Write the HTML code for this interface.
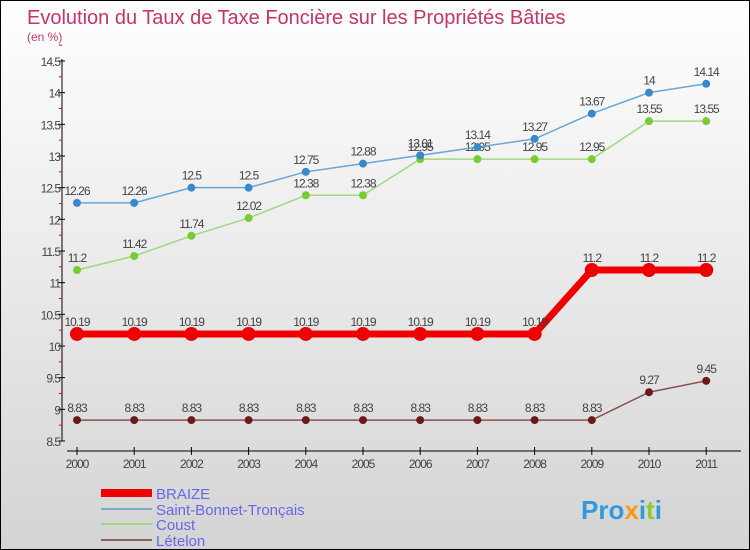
<!DOCTYPE html>
<html><head><meta charset="utf-8"><style>
body{margin:0}
#c{width:748px;height:548px;border:1px solid #000;background:linear-gradient(#fff,#d4d4d4);position:relative;font-family:"Liberation Sans",sans-serif;overflow:hidden}
</style></head><body>
<div id="c">
<svg width="748" height="548" id="s" style="position:absolute;left:0;top:0">
<text x="26" y="23" font-size="20" fill="#c8336a">Evolution du Taux de Taxe Foncière sur les Propriétés Bâties</text>
<text x="26" y="40" font-size="12" fill="#c8336a">(en %)</text>
<g id="g"></g>
<g>
<rect x="100" y="488" width="51" height="8" fill="#e00"/>
<text x="155" y="498" font-size="15" fill="#6666ee">BRAIZE</text>
<rect x="100" y="507" width="51" height="2" fill="#7aaed0"/>
<text x="155" y="514" font-size="15" fill="#6666ee">Saint-Bonnet-Tronçais</text>
<rect x="100" y="522" width="51" height="2" fill="#a0d880"/>
<text x="155" y="529" font-size="15" fill="#6666ee">Coust</text>
<rect x="100" y="538" width="51" height="2" fill="#906060"/>
<text x="155" y="545" font-size="15" fill="#6666ee">Lételon</text>
</g>
<text x="580" y="518" font-size="26" font-weight="bold" fill="#3399dd">Pro<tspan fill="#f39c12">x</tspan>i<tspan fill="#88cc33">t</tspan>i</text>
</svg>
</div>
<script>
const years=[2000,2001,2002,2003,2004,2005,2006,2007,2008,2009,2010,2011];
const yTicks=[8.5,9,9.5,10,10.5,11,11.5,12,12.5,13,13.5,14,14.5];
const braize=[10.19,10.19,10.19,10.19,10.19,10.19,10.19,10.19,10.19,11.2,11.2,11.2];
const saintBonnet=[12.26,12.26,12.5,12.5,12.75,12.88,13.01,13.14,13.27,13.67,14,14.14];
const coust=[11.2,11.42,11.74,12.02,12.38,12.38,12.95,12.95,12.95,12.95,13.55,13.55];
const letelon=[8.83,8.83,8.83,8.83,8.83,8.83,8.83,8.83,8.83,8.83,9.27,9.45];
const NS="http://www.w3.org/2000/svg",g=document.getElementById('g');
const X=i=>76+i*57.2, Y=v=>60+(14.5-v)*63.33;
function el(t,a){const e=document.createElementNS(NS,t);for(const k in a)e.setAttribute(k,a[k]);g.appendChild(e);return e;}
let a=el('line',{x1:61,y1:58,x2:61,y2:440,stroke:'#000'});


yTicks.forEach(v=>{let t=el('line',{x1:57,x2:64,y1:Y(v),y2:Y(v),stroke:'#000'});


let m=el('line',{x1:58,x2:61,y1:Y(v+0.25),y2:Y(v+0.25),stroke:'#e00'});


let l=el('text',{x:59,y:Y(v)+5,'font-size':12,fill:'#444','text-anchor':'end','letter-spacing':'-1'});l.textContent=v;

});
let xa=el('line',{x1:66,y1:450,x2:740,y2:450,stroke:'#000'});


years.forEach((y,i)=>{let t=el('line',{x1:X(i),x2:X(i),y1:446,y2:454,stroke:'#000'});


let l=el('text',{x:X(i),y:467,'font-size':12,fill:'#444','text-anchor':'middle','letter-spacing':'-1'});l.textContent=y;

});
function series(d,name,col,dot,w,r){
 let p=el('polyline',{points:d.map((v,i)=>X(i)+','+Y(v)).join(' '),fill:'none',stroke:col,'stroke-width':w,'stroke-linejoin':'round'});
 
 
 d.forEach((v,i)=>{let c=el('circle',{cx:X(i),cy:Y(v),r:r,fill:dot});
 
 
 let t=el('text',{x:X(i),y:Y(v)-8,'font-size':12,fill:'#444','text-anchor':'middle','letter-spacing':'-1'});t.textContent=v;
 
 });
}
series(letelon,'letelon','#8a5050','#6a1a1a',1.5,4);
series(coust,'coust','#a0d880','#77cc33',1.5,4);
series(saintBonnet,'saint-bonnet','#6aa6d8','#3a88cc',1.5,4);
series(braize,'braize','#ee0000','#ee0000',7,7);
</script>
</body></html>
